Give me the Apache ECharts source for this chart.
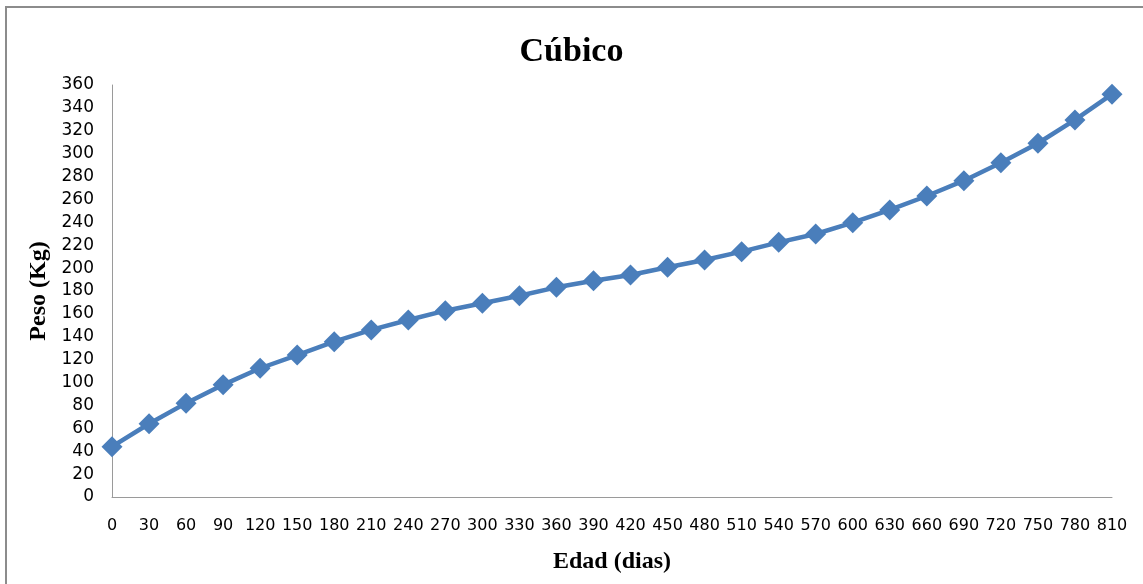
<!DOCTYPE html>
<html>
<head>
<meta charset="utf-8">
<title>Cúbico</title>
<script src="https://cdn.jsdelivr.net/npm/echarts@6/dist/echarts.min.js"></script>
<style>
  html, body { margin: 0; padding: 0; background: #ffffff; }
  #chart { width: 1143px; height: 584px; }
</style>
</head>
<body>
<div id="chart"></div>
<script>
// Age in days (x categories)
const edadDias = ['0','30','60','90','120','150','180','210','240','270','300','330','360','390',
  '420','450','480','510','540','570','600','630','660','690','720','750','780','810'];

// Weight in kg, cubic growth model
const pesoKg = [44, 64, 82, 98, 112.5, 124, 135.7, 146, 154.7, 162.8, 169.3, 175.9, 183.2, 189,
  194, 200.7, 207.1, 214.4, 222.5, 229.8, 239.7, 250.8, 263, 276.4, 292.1, 309.1, 329.5, 352];

// Y axis range
const yMin = 0;
const yMax = 360;
const yStep = 20;

const chart = echarts.init(document.getElementById('chart'), null, { renderer: 'canvas' });

const serif = '"Liberation Serif", "Times New Roman", serif';
const sans = '"DejaVu Sans", Verdana, sans-serif';

chart.setOption({
  backgroundColor: '#ffffff',
  animation: false,
  title: {
    text: 'Cúbico',
    left: 'center',
    top: 30,
    textStyle: { fontFamily: serif, fontWeight: 'bold', fontSize: 34, color: '#000000' }
  },
  graphic: [{
    type: 'rect',
    shape: { x: 6, y: 7, width: 1160, height: 600 },
    style: { fill: 'none', stroke: '#8c8c8c', lineWidth: 2 },
    silent: true
  }],
  grid: { left: 112, right: 31, top: 85, bottom: 87, containLabel: false },
  xAxis: {
    type: 'category',
    data: edadDias,
    boundaryGap: false,
    name: 'Edad (dias)',
    nameLocation: 'middle',
    nameGap: 53,
    nameTextStyle: { fontFamily: serif, fontWeight: 'bold', fontSize: 24, color: '#000000' },
    axisLine: { lineStyle: { color: '#9a9a9a', width: 1 } },
    axisTick: { show: false },
    axisLabel: { interval: 0, margin: 21, fontFamily: sans, fontSize: 16, color: '#000000' },
    splitLine: { show: false }
  },
  yAxis: {
    type: 'value',
    min: yMin,
    max: yMax,
    interval: yStep,
    name: 'Peso (Kg)',
    nameLocation: 'middle',
    nameGap: 60,
    nameRotate: 90,
    nameTextStyle: { fontFamily: serif, fontWeight: 'bold', fontSize: 24, color: '#000000' },
    axisLine: { show: true, lineStyle: { color: '#9a9a9a', width: 1 } },
    axisTick: { show: false },
    axisLabel: { margin: 18, fontFamily: sans, fontSize: 17, color: '#000000' },
    splitLine: { show: false }
  },
  series: [{
    type: 'line',
    data: pesoKg,
    symbol: 'diamond',
    symbolSize: 21,
    lineStyle: { color: '#4a7ebb', width: 4.5 },
    itemStyle: { color: '#4a7ebb' }
  }]
});
</script>
</body>
</html>
